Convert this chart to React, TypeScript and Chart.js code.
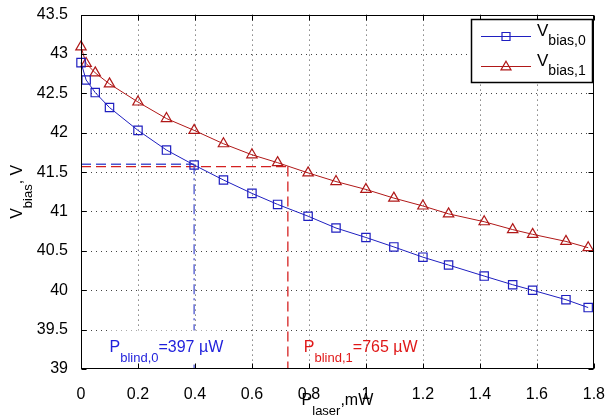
import React, { useEffect, useRef } from "react";
import { Chart, registerables } from "chart.js";

Chart.register(...registerables);

// ---- data ----
const pLaser = [0, 0.018, 0.05, 0.1, 0.2, 0.3, 0.397, 0.5, 0.6, 0.69, 0.797, 0.895, 1.0, 1.098, 1.2, 1.29, 1.415, 1.515, 1.585, 1.702, 1.78];
const vBias0 = [42.89, 42.67, 42.51, 42.32, 42.03, 41.78, 41.59, 41.40, 41.23, 41.09, 40.94, 40.79, 40.67, 40.55, 40.42, 40.32, 40.18, 40.07, 40.0, 39.88, 39.78];
const vBias1 = [43.09, 42.88, 42.76, 42.62, 42.39, 42.18, 42.03, 41.86, 41.72, 41.62, 41.49, 41.38, 41.28, 41.17, 41.07, 40.97, 40.87, 40.77, 40.71, 40.62, 40.54];
const xTicks = [0, 0.2, 0.4, 0.6, 0.8, 1, 1.2, 1.4, 1.6, 1.8];
const yTicks = [39, 39.5, 40, 40.5, 41, 41.5, 42, 42.5, 43, 43.5];
const blindP = [0.397, 0.726];
const blindV = [41.6, 41.57];
const blindLabels = ["=397 µW", "=765 µW"];
const blindSubs = ["blind,0", "blind,1"];
const seriesSubs = ["bias,0", "bias,1"];

const FONT = '"Liberation Sans", Arial, Helvetica, sans-serif';
const BLUE = "#1f1fc0";
const RED = "#b01818";
const BLUE_REF = "#4b55cf";
const RED_REF = "#d42020";
const BLUE_TXT = "#1f1fdc";
const RED_TXT = "#e01818";

type Part = { t: string; sub?: boolean };

function richWidth(ctx: CanvasRenderingContext2D, parts: Part[], main: number, sub: number) {
  let w = 0;
  for (const p of parts) {
    ctx.font = `${p.sub ? sub : main}px ${FONT}`;
    w += ctx.measureText(p.t).width;
  }
  return w;
}

function drawRich(ctx: CanvasRenderingContext2D, parts: Part[], x: number, y: number, main: number, sub: number, shift: number) {
  let cx = x;
  ctx.textBaseline = "alphabetic";
  ctx.textAlign = "left";
  for (const p of parts) {
    ctx.font = `${p.sub ? sub : main}px ${FONT}`;
    ctx.fillText(p.t, cx, p.sub ? y + shift : y);
    cx += ctx.measureText(p.t).width;
  }
}

const fmt = (v: number) => String(Number(v.toFixed(2)));

const framePlugin = {
  id: "frame",
  beforeDatasetsDraw(chart: any) {
    const { ctx, chartArea } = chart;
    const { left, right, top, bottom } = chartArea;
    const xs = chart.scales.x;
    const ys = chart.scales.y;
    ctx.save();
    ctx.strokeStyle = "#444";
    ctx.lineWidth = 1;
    ctx.setLineDash([1, 4]);
    for (const v of xTicks) {
      const px = Math.round(xs.getPixelForValue(v)) + 0.5;
      if (px <= left + 1 || px >= right - 1) continue;
      ctx.beginPath();
      ctx.moveTo(px, top);
      ctx.lineTo(px, bottom);
      ctx.stroke();
    }
    for (const v of yTicks) {
      const py = Math.round(ys.getPixelForValue(v)) + 0.5;
      if (py <= top + 1 || py >= bottom - 1) continue;
      ctx.beginPath();
      ctx.moveTo(left, py);
      ctx.lineTo(right, py);
      ctx.stroke();
    }
    ctx.restore();
  },
  afterDatasetsDraw(chart: any) {
    const { ctx, chartArea } = chart;
    const { left, right, top, bottom } = chartArea;
    const xs = chart.scales.x;
    const ys = chart.scales.y;
    ctx.save();
    // annotations
    const texts = [
      { color: BLUE_TXT, sub: blindSubs[0], lab: blindLabels[0], xv: 0.1 },
      { color: RED_TXT, sub: blindSubs[1], lab: blindLabels[1], xv: 0.782 },
    ];
    for (const t of texts) {
      const parts: Part[] = [{ t: "P" }, { t: t.sub, sub: true }, { t: t.lab }];
      const x0 = xs.getPixelForValue(t.xv);
      const y0 = ys.getPixelForValue(39.21);
      const w = richWidth(ctx, parts, 16, 13);
      if (t.color === BLUE_TXT) {
        ctx.fillStyle = "#fff";
        ctx.fillRect(x0 - 1, y0 - 22, w + 2, 34);
      }
      ctx.fillStyle = t.color;
      drawRich(ctx, parts, x0, y0, 16, 13, 9.5);
    }
    // frame
    ctx.setLineDash([]);
    ctx.strokeStyle = "#000";
    ctx.lineWidth = 1;
    const L = Math.round(left) + 0.5, R = Math.round(right) - 0.5;
    const T = Math.round(top) + 0.5, B = Math.round(bottom) - 0.5;
    ctx.strokeRect(L, T, R - L, B - T);
    ctx.beginPath();
    for (const v of xTicks) {
      const px = Math.round(xs.getPixelForValue(v)) + 0.5;
      ctx.moveTo(px, B); ctx.lineTo(px, B - 5);
      ctx.moveTo(px, T); ctx.lineTo(px, T + 5);
    }
    for (const v of yTicks) {
      const py = Math.round(ys.getPixelForValue(v)) + 0.5;
      ctx.moveTo(L, py); ctx.lineTo(L + 5, py);
      ctx.moveTo(R, py); ctx.lineTo(R - 5, py);
    }
    ctx.stroke();
    // legend
    const lx = 471.5, ly = 19.5, lw = 121, lh = 63;
    ctx.fillStyle = "#fff";
    ctx.fillRect(lx, ly, lw, lh);
    ctx.lineWidth = 1.5;
    ctx.strokeRect(lx, ly, lw, lh);
    const entries = [
      { color: BLUE, style: "rect", sub: seriesSubs[0], y: 36 },
      { color: RED, style: "triangle", sub: seriesSubs[1], y: 66 },
    ];
    for (const e of entries) {
      ctx.strokeStyle = e.color;
      ctx.lineWidth = 1;
      ctx.beginPath();
      ctx.moveTo(481, e.y + 0.5);
      ctx.lineTo(531, e.y + 0.5);
      ctx.stroke();
      ctx.lineWidth = 1.2;
      ctx.beginPath();
      if (e.style === "rect") {
        ctx.rect(502, e.y + 0.5 - 4, 8, 8);
      } else {
        const r = 5.8;
        const cy = e.y + 1;
        ctx.moveTo(506, cy - r);
        ctx.lineTo(506 + r * 0.866, cy + r / 2);
        ctx.lineTo(506 - r * 0.866, cy + r / 2);
        ctx.closePath();
      }
      ctx.stroke();
      ctx.fillStyle = "#000";
      drawRich(ctx, [{ t: "V" }, { t: e.sub, sub: true }], 537, e.y, 17, 14, 9);
    }
    // axis titles
    ctx.fillStyle = "#000";
    const xParts: Part[] = [{ t: "P" }, { t: "laser", sub: true }, { t: ",mW" }];
    const xw = richWidth(ctx, xParts, 16, 13);
    drawRich(ctx, xParts, (left + right) / 2 - xw / 2, 405, 16, 13, 9.5);
    const yParts: Part[] = [{ t: "V" }, { t: "bias", sub: true }, { t: ", V" }];
    const yw = richWidth(ctx, yParts, 16, 13);
    ctx.translate(22, (top + bottom) / 2);
    ctx.rotate(-Math.PI / 2);
    drawRich(ctx, yParts, -yw / 2, 0, 16, 13, 9.5);
    ctx.restore();
  },
};

export default function App() {
  const ref = useRef<HTMLCanvasElement | null>(null);
  useEffect(() => {
    const canvas = ref.current;
    if (!canvas) return;
    const bottomV = yTicks[0];
    const chart = new Chart(canvas, {
      type: "line",
      data: {
        datasets: [
          {
            label: "V_bias,0",
            data: pLaser.map((x, i) => ({ x, y: vBias0[i] })),
            borderColor: BLUE,
            borderWidth: 1,
            pointStyle: "rect",
            pointRadius: 5.9,
            pointBorderColor: BLUE,
            pointBackgroundColor: "rgba(0,0,0,0)",
            pointBorderWidth: 1.2,
            tension: 0,
            clip: false,
            order: 0,
          } as any,
          {
            label: "V_bias,1",
            data: pLaser.map((x, i) => ({ x, y: vBias1[i] })),
            borderColor: RED,
            borderWidth: 1,
            pointStyle: "triangle",
            pointRadius: 6,
            pointBorderColor: RED,
            pointBackgroundColor: "rgba(0,0,0,0)",
            pointBorderWidth: 1.2,
            tension: 0,
            clip: false,
            order: 0,
          } as any,
          {
            data: [{ x: 0, y: blindV[0] }, { x: blindP[0], y: blindV[0] }],
            borderColor: BLUE_REF, borderWidth: 1.3, borderDash: [10, 5], pointRadius: 0, order: 1,
          } as any,
          {
            data: [{ x: blindP[0], y: blindV[0] }, { x: blindP[0], y: bottomV }],
            borderColor: BLUE_REF, borderWidth: 1.3, borderDash: [10, 4, 2, 4], pointRadius: 0, order: 1,
          } as any,
          {
            data: [{ x: 0, y: blindV[1] }, { x: blindP[1], y: blindV[1] }],
            borderColor: RED_REF, borderWidth: 1.3, borderDash: [10, 5], pointRadius: 0, order: 1,
          } as any,
          {
            data: [{ x: blindP[1], y: blindV[1] }, { x: blindP[1], y: bottomV }],
            borderColor: RED_REF, borderWidth: 1.3, borderDash: [10, 5], pointRadius: 0, order: 1,
          } as any,
        ],
      },
      options: {
        animation: false,
        responsive: false,
        devicePixelRatio: 1,
        events: [],
        layout: { padding: { top: 10, right: 12, left: 0, bottom: 0 } },
        plugins: { legend: { display: false }, tooltip: { enabled: false }, title: { display: false } },
        scales: {
          x: {
            type: "linear",
            min: xTicks[0],
            max: xTicks[xTicks.length - 1],
            grid: { display: false },
            border: { display: false },
            afterBuildTicks: (s: any) => { s.ticks = xTicks.map((v) => ({ value: v })); },
            afterFit: (s: any) => { s.height = 51; },
            ticks: {
              color: "#000",
              font: { family: FONT, size: 16 },
              padding: 8,
              maxRotation: 0,
              autoSkip: false,
              callback: (v: any) => fmt(Number(v)),
            },
          },
          y: {
            type: "linear",
            min: yTicks[0],
            max: yTicks[yTicks.length - 1],
            grid: { display: false },
            border: { display: false },
            afterBuildTicks: (s: any) => { s.ticks = yTicks.map((v) => ({ value: v })); },
            afterFit: (s: any) => { s.width = 81; },
            ticks: {
              color: "#000",
              font: { family: FONT, size: 16 },
              padding: 5,
              autoSkip: false,
              callback: (v: any) => fmt(Number(v)),
            },
          },
        },
      } as any,
      plugins: [framePlugin],
    });
    return () => chart.destroy();
  }, []);
  return (
    <div style={{ position: "absolute", left: 0, top: 0, width: 613, height: 420, background: "#fff" }}>
      <canvas ref={ref} width={613} height={420} style={{ display: "block" }} />
    </div>
  );
}
